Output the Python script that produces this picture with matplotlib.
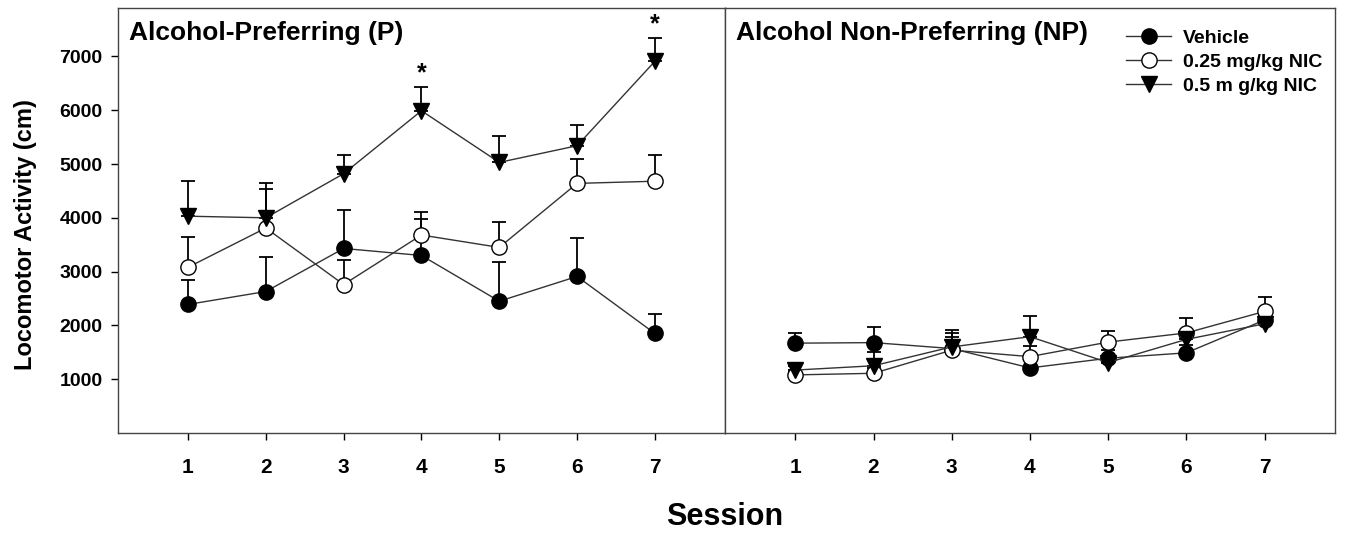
import numpy as np
import matplotlib
matplotlib.use("Agg")
import matplotlib.pyplot as plt

plt.rcParams['font.family'] = ['Liberation Sans', 'DejaVu Sans']
plt.rcParams['font.weight'] = 'bold'

# Data
sessions = [1, 2, 3, 4, 5, 6, 7]
groups = ['Vehicle', '0.25 mg/kg NIC', '0.5 m g/kg NIC']

# Alcohol-Preferring (P) rats: means and upper SEM
veh_P = [2390, 2630, 3430, 3300, 2450, 2910, 1850]
veh_P_err = [460, 650, 710, 680, 720, 710, 370]
nic25_P = [3080, 3810, 2760, 3680, 3450, 4640, 4680]
nic25_P_err = [560, 730, 460, 420, 470, 460, 490]
nic50_P = [4030, 4000, 4820, 5990, 5030, 5340, 6910]
nic50_P_err = [650, 650, 350, 440, 490, 380, 440]
sig_P = [4, 7]  # sessions with asterisk

# Alcohol Non-Preferring (NP) rats
veh_NP = [1670, 1680, 1570, 1210, 1390, 1490, 2100]
veh_NP_err = [180, 290, 290, 150, 150, 150, 100]
nic25_NP = [1080, 1110, 1540, 1420, 1690, 1860, 2260]
nic25_NP_err = [60, 100, 250, 200, 210, 280, 270]
nic50_NP = [1170, 1250, 1600, 1790, 1310, 1740, 2030]
nic50_NP_err = [80, 260, 310, 380, 120, 150, 120]

yticks = [1000, 2000, 3000, 4000, 5000, 6000, 7000]

styles = [
    dict(marker='o', mfc='black', mec='black'),
    dict(marker='o', mfc='white', mec='black'),
    dict(marker='v', mfc='black', mec='black'),
]

fig = plt.figure(figsize=(13.45, 5.33), dpi=100)
ax1 = fig.add_axes([0.0877, 0.1876, 0.4513, 0.7974])
ax2 = fig.add_axes([0.5390, 0.1876, 0.4535, 0.7974])


def draw_panel(ax, series, errs, title):
    handles = []
    for vals, err, st in zip(series, errs, styles):
        lower = np.zeros(len(err))
        ax.errorbar(sessions, vals, yerr=[lower, err], fmt='none', ecolor='black',
                    elinewidth=1.3, capsize=5, capthick=1.3, zorder=2)
        h, = ax.plot(sessions, vals, color='#333333', lw=1.0, marker=st['marker'],
                     markersize=11, markerfacecolor=st['mfc'], markeredgecolor=st['mec'],
                     markeredgewidth=1.0, zorder=3)
        handles.append(h)
    ax.set_xlim(0.1, 7.9)
    ax.set_ylim(0, 7900)
    ax.set_xticks(sessions)
    ax.tick_params(axis='x', direction='out', length=5, width=1, labelsize=15, pad=13)
    for sp in ax.spines.values():
        sp.set_color('#444444')
        sp.set_linewidth(1.0)
    ax.text(0.018, 0.97, title, transform=ax.transAxes, fontsize=19, fontweight='bold',
            va='top', ha='left')
    return handles


draw_panel(ax1, [veh_P, nic25_P, nic50_P], [veh_P_err, nic25_P_err, nic50_P_err],
           'Alcohol-Preferring (P)')
handles = draw_panel(ax2, [veh_NP, nic25_NP, nic50_NP], [veh_NP_err, nic25_NP_err, nic50_NP_err],
                     'Alcohol Non-Preferring (NP)')

# asterisks above the 0.5 mg/kg caps
for s in sig_P:
    i = sessions.index(s)
    ax1.annotate('*', (s, nic50_P[i] + nic50_P_err[i]), xytext=(0, 1),
                 textcoords='offset points', ha='center', va='bottom',
                 fontsize=18, fontweight='bold')

ax1.set_yticks(yticks)
ax1.tick_params(axis='y', direction='out', length=5, width=1, labelsize=14, pad=6)
ax1.set_ylabel('Locomotor Activity (cm)', fontsize=17, fontweight='bold')
ax1.yaxis.set_label_coords(-0.133, 0.466)
ax2.set_yticks([])

ax2.legend(handles, groups, loc='upper left', bbox_to_anchor=(0.658, 0.95), frameon=False,
           handlelength=2.3, handletextpad=0.6, labelspacing=0.34, borderpad=0,
           borderaxespad=0, prop={'weight': 'bold', 'size': 14})

fig.text(0.539, 0.03, 'Session', ha='center', va='center', fontsize=22, fontweight='bold')

fig.savefig('out.png', dpi=100)
